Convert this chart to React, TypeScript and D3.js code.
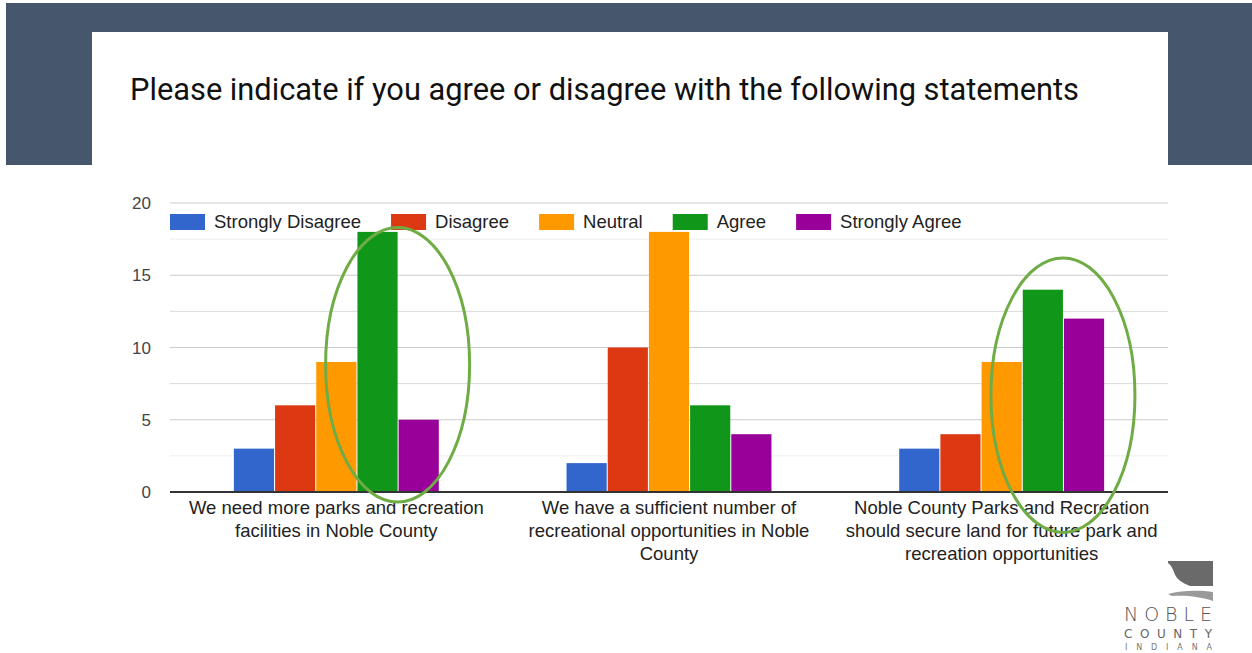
import React, { useEffect, useRef } from "react";
import * as d3 from "d3";

const title = "Please indicate if you agree or disagree with the following statements";
const categories = ["q1", "q2", "q3"];
const categoryLabels: string[][] = [
  ["We need more parks and recreation", "facilities in Noble County"],
  ["We have a sufficient number of", "recreational opportunities in Noble", "County"],
  ["Noble County Parks and Recreation", "should secure land for future park and", "recreation opportunities"],
];
const seriesNames = ["Strongly Disagree", "Disagree", "Neutral", "Agree", "Strongly Agree"];
const seriesColors = ["#3366cc", "#dc3912", "#ff9900", "#109618", "#990099"];
const stronglyDisagree = [3, 2, 3];
const disagree = [6, 10, 4];
const neutral = [9, 18, 9];
const agree = [18, 6, 14];
const stronglyAgree = [5, 4, 12];
const yTicks = [0, 5, 10, 15, 20];
const yMinorTicks = [2.5, 7.5, 12.5, 17.5];
// highlight ellipses: category index, center value, vertical radius in value units
const highlightCats = [0, 2];
const highlightCenters = [8.8, 6.7];
const highlightRadii = [9.5, 9.5];

const W = 1252;
const H = 653;

export default function App() {
  const ref = useRef<SVGSVGElement>(null);
  useEffect(() => {
    const svg = d3.select(ref.current);
    svg.selectAll("*").remove();
    const values = [stronglyDisagree, disagree, neutral, agree, stronglyAgree];

    // background
    svg.append("rect").attr("x", 0).attr("y", 0).attr("width", W).attr("height", H).attr("fill", "#ffffff");
    svg.append("rect").attr("x", 6).attr("y", 3).attr("width", W - 6).attr("height", 162).attr("fill", "#46566c");
    svg.append("rect").attr("x", 92).attr("y", 32).attr("width", 1076).attr("height", H - 32).attr("fill", "#ffffff");

    svg.append("text").attr("x", 130).attr("y", 100)
      .attr("font-family", "Roboto, 'Noto Sans', sans-serif").attr("font-size", 30.8)
      .attr("fill", "#111").text(title);

    const left = 170, right = 1168, top = 203, bottom = 492;
    const y = d3.scaleLinear().domain([0, 20]).range([bottom, top]);
    const x0 = d3.scaleBand<string>().domain(categories).range([left, right]).paddingInner(0.384).paddingOuter(0.192);
    const x1 = d3.scaleBand<string>().domain(seriesNames).range([0, x0.bandwidth()]).paddingInner(0.025);

    const font = "'Liberation Sans', Arial, sans-serif";
    const g = svg.append("g");
    // minor gridlines
    g.selectAll(".minor").data(yMinorTicks).enter().append("line")
      .attr("x1", left).attr("x2", right).attr("y1", (d) => y(d)).attr("y2", (d) => y(d))
      .attr("stroke", (d) => (d === 2.5 || d === 17.5 ? "#eeeeee" : "#dadada")).attr("stroke-width", 1);
    g.selectAll(".major").data(yTicks.filter((t) => t !== 0)).enter().append("line")
      .attr("x1", left).attr("x2", right).attr("y1", (d) => y(d)).attr("y2", (d) => y(d))
      .attr("stroke", "#cccccc").attr("stroke-width", 1);
    g.selectAll(".ylab").data(yTicks).enter().append("text")
      .attr("x", 151).attr("y", (d) => y(d) + 6).attr("text-anchor", "end")
      .attr("font-family", font).attr("font-size", 17).attr("fill", "#444").text((d) => d);

    // bars
    categories.forEach((c, ci) => {
      seriesNames.forEach((s, si) => {
        const v = values[si][ci];
        g.append("rect")
          .attr("x", (x0(c) as number) + (x1(s) as number))
          .attr("y", y(v)).attr("width", x1.bandwidth()).attr("height", y(0) - y(v))
          .attr("fill", seriesColors[si]);
      });
    });
    // baseline
    g.append("line").attr("x1", left).attr("x2", right).attr("y1", y(0)).attr("y2", y(0))
      .attr("stroke", "#333").attr("stroke-width", 2);

    // category labels
    categories.forEach((c, ci) => {
      const cx = (x0(c) as number) + x0.bandwidth() / 2;
      const t = g.append("text").attr("text-anchor", "middle")
        .attr("font-family", font).attr("font-size", 18.5).attr("fill", "#222");
      categoryLabels[ci].forEach((line, li) => {
        t.append("tspan").attr("x", cx).attr("y", 514 + li * 23).text(line);
      });
    });

    // legend
    let lx = left;
    const ly = 214;
    seriesNames.forEach((s, si) => {
      g.append("rect").attr("x", lx).attr("y", ly).attr("width", 35).attr("height", 16).attr("fill", seriesColors[si]);
      const tx = g.append("text").attr("x", lx + 44).attr("y", ly + 14)
        .attr("font-family", font).attr("font-size", 18.5).attr("fill", "#222").text(s);
      const w = (tx.node() as SVGTextElement).getComputedTextLength();
      lx = lx + 44 + w + 30;
    });

    // highlight ellipses
    highlightCats.forEach((ci, i) => {
      const c = categories[ci];
      const cx = (x0(c) as number) + (x1("Agree") as number) + x1.bandwidth();
      const cy = y(highlightCenters[i]);
      const ry = y(0) - y(highlightRadii[i]);
      g.append("ellipse").attr("cx", cx).attr("cy", cy).attr("rx", 72).attr("ry", ry)
        .attr("fill", "none").attr("stroke", "#6fac46").attr("stroke-width", 3);
    });

    // logo
    const logo = svg.append("g");
    logo.append("path")
      .attr("d", "M1168,561 L1213,561 L1213,586 L1190,586 C1182,583 1176,579 1174,572 C1172,567 1170,564 1168,563 Z")
      .attr("fill", "#6a6a6a");
    logo.append("path")
      .attr("d", "M1168,594 C1182,590 1200,590 1213,592 L1213,601 C1202,597 1186,595 1172,596 Z")
      .attr("fill", "#9a9a9a");
    logo.append("text").attr("x", 1124).attr("y", 621)
      .attr("font-family", "'DejaVu Sans', sans-serif").attr("font-size", 19).attr("font-weight", 200)
      .attr("textLength", 88).attr("lengthAdjust", "spacing").attr("fill", "#555").text("NOBLE");
    logo.append("text").attr("x", 1124).attr("y", 638)
      .attr("font-family", "'DejaVu Sans', sans-serif").attr("font-size", 12)
      .attr("textLength", 88).attr("lengthAdjust", "spacing").attr("fill", "#666").text("COUNTY");
    logo.append("text").attr("x", 1125).attr("y", 650)
      .attr("font-family", "'DejaVu Sans', sans-serif").attr("font-size", 8)
      .attr("textLength", 87).attr("lengthAdjust", "spacing").attr("fill", "#777").text("INDIANA");
  }, []);
  return (
    <svg ref={ref} width={W} height={H}
      style={{ position: "absolute", left: 0, top: 0, display: "block" }} />
  );
}
